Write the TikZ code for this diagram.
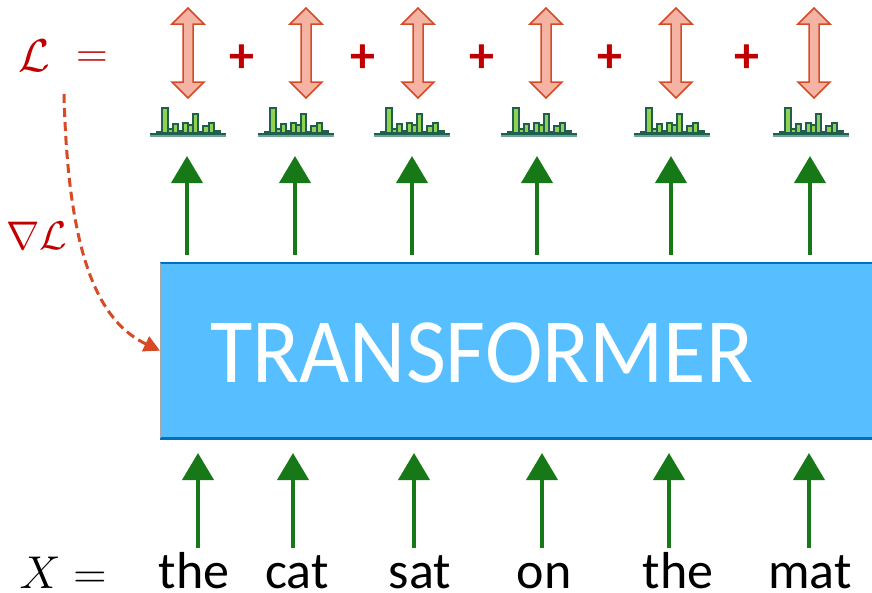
\RequirePackage{fix-cm}
\documentclass[tikz,border=0pt]{standalone}
\usepackage{fontspec}
\newfontfamily\calib{Carlito}
\usetikzlibrary{arrows.meta}
\definecolor{lred}{HTML}{C00000}
\definecolor{arrfill}{HTML}{F4B3A3}
\definecolor{arrline}{HTML}{D64A26}
\definecolor{gdark}{HTML}{167816}
\definecolor{hfill}{HTML}{92D050}
\definecolor{hline}{HTML}{1F5F4F}
\definecolor{hbase}{HTML}{6FA596}
\definecolor{tfill}{HTML}{57BFFF}
\definecolor{tline}{HTML}{0070C0}
\begin{document}
\begin{tikzpicture}[x=1pt,y=-1pt,
  garrow/.style={draw=gdark, line width=4pt, -{Triangle[width=31pt,length=27pt]}},
  word/.style={font=\calib\fontsize{52}{60}\selectfont, anchor=base, inner sep=0pt, text depth=0pt},
  plussign/.style={text=lred, font=\calib\bfseries\fontsize{50}{60}\selectfont, anchor=center, inner sep=0pt},
  dbl/.pic={\draw[arrline, fill=arrfill, line width=1.5pt, line join=miter]
     (0,-45) -- (16,-29) -- (5,-29) -- (5,29) -- (16,29) -- (0,45) -- (-16,29) -- (-5,29) -- (-5,-29) -- (-16,-29) -- cycle;},
  hist/.pic={
     \draw[hbase, line width=2.2pt] (-38,2.6) -- (38,2.6);
     \foreach \a/\b/\h in {-31/-26/1.5, -26/-20/25, -20/-15/4, -15/-10/9, -10/-5/2, -5/0/10, 0/5/8, 5/10/19, 10/15/1.5, 15/21/7, 21/26/10, 26/32/2}
        \draw[hline, fill=hfill, line width=1.4pt] (\a,0) rectangle (\b,-\h);
     \draw[hline, line width=1.8pt] (-38,0.6) -- (38,0.6);}
]
\useasboundingbox (0,0) rectangle (872,592);

% loss line
\node[text=lred, inner sep=0pt, font=\fontsize{46}{50}\selectfont] (L) at (34,56) {$\mathcal{L}$};
\node[text=lred, inner sep=0pt, font=\fontsize{44}{50}\selectfont] (eq) at (92,60) {$=$};
\foreach \x [count=\i] in {188,306,418,546,676,814}
  \pic at (\x,53) {dbl};
\foreach \x [count=\i] in {242,363,482,610,747}
  \node[plussign] (p\i) at (\x,59) {+};
\foreach \x [count=\i] in {188,296,412,539,672,811}
  \pic at (\x,133) {hist};

% transformer
\node[draw=none, fill=tfill, minimum width=714pt, minimum height=175pt, inner sep=0pt, anchor=north west] (tf) at (160,263) {};
\draw[tline, line width=2.5pt] (tf.north west) -- (tf.north east);
\draw[tline, line width=2.5pt] (tf.south west) -- (tf.south east);
\draw[gray!70, line width=0.8pt] (tf.north west) -- (tf.south west);
\node[text=white, anchor=base west, inner sep=0pt, font=\calib\fontsize{92}{100}\selectfont] (tft) at (210,382) {\scalebox{0.944}[1]{TRANSFORMER}};

% gradient
\node[text=lred, inner sep=0pt, font=\fontsize{40}{46}\selectfont] (gL) at (37,236) {$\nabla\mathcal{L}$};
\coordinate (gs) at (64,94);
\draw[arrline, line width=3pt, dash pattern=on 9pt off 5pt, -{Triangle[width=16pt,length=16pt]}]
  (gs) .. controls (68,260) and (100,322) .. (tf.west);

% words
\node[inner sep=0pt, font=\fontsize{46}{54}\selectfont, anchor=base, text depth=0pt] (X) at (63,588) {$X =$};
\foreach \x/\w [count=\i] in {194/the, 297/cat, 420/sat, 544/on, 678/the, 810/mat}
  \node[word] (w\i) at (\x,588) {\w};

% green arrows
\foreach \x [count=\i] in {187,295,412,537,671,810}{
  \coordinate (ta\i) at (\x,255);
  \coordinate (tb\i) at (\x,156);
  \draw[garrow] (ta\i) -- (tb\i);}
\foreach \x [count=\i] in {198,293,414,542,669,809}{
  \coordinate (ba\i) at (\x,548);
  \coordinate (bb\i) at (\x,453);
  \draw[garrow] (ba\i) -- (bb\i);}
\end{tikzpicture}
\end{document}
